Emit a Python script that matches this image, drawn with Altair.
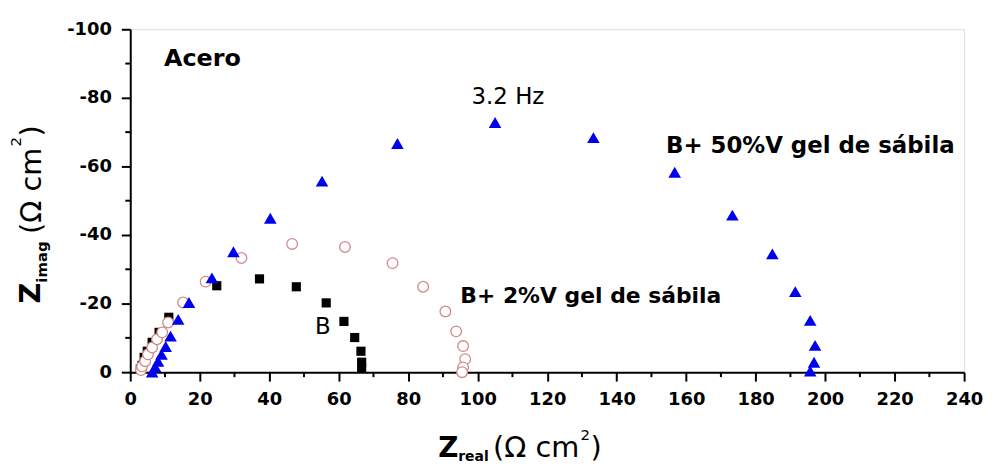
import altair as alt
import pandas as pd

# ---- data ----
b_real = [2.9, 3.4, 4.0, 4.9, 6.3, 8.3, 11.1, 24.9, 37.2, 47.8, 56.4, 61.5, 64.6, 66.4, 66.6, 66.6]
b_imag = [-0.9, -2.0, -4.3, -6.1, -8.7, -11.6, -16.0, -25.2, -27.2, -24.9, -20.2, -14.8, -10.1, -6.1, -2.9, -1.2]

g2_real = [3.1, 3.4, 4.3, 5.1, 6.3, 7.7, 9.2, 10.9, 15.2, 21.7, 32.0, 46.6, 61.8, 75.5, 84.3, 90.7, 93.8, 95.8, 96.4, 95.8, 95.5]
g2_imag = [-0.6, -1.7, -3.2, -5.2, -7.2, -9.6, -11.6, -14.5, -20.3, -26.4, -33.3, -37.4, -36.5, -31.8, -24.9, -17.7, -11.9, -7.6, -3.8, -1.4, 0.0]

g50_real = [6.3, 7.2, 8.0, 9.0, 10.2, 11.6, 13.8, 16.9, 23.5, 29.7, 40.3, 55.2, 76.9, 105.0, 133.3, 156.7, 173.3, 184.8, 191.4, 195.7, 197.1, 196.8, 195.7]
g50_imag = [0.0, -1.5, -3.2, -5.2, -7.5, -10.5, -15.4, -20.3, -27.5, -35.1, -44.9, -55.7, -66.7, -72.8, -68.4, -58.3, -45.8, -34.5, -23.5, -15.1, -7.8, -2.9, -0.3]

x_major = [0, 20, 40, 60, 80, 100, 120, 140, 160, 180, 200, 220, 240]
x_minor = [10, 30, 50, 70, 90, 110, 130, 150, 170, 190, 210, 230]
y_major = [0, -20, -40, -60, -80, -100]
y_minor = [-10, -30, -50, -70, -90]

ann_text = ["Acero", "3.2 Hz", "B+ 50%V gel de sábila", "B+ 2%V gel de sábila", "B"]
ann_x = [9.7, 108.7, 154.2, 95.0, 53.2]
ann_y = [-89.3, -78.3, -63.8, -20.3, -11.0]
ann_weight = ["bold", "normal", "bold", "bold", "normal"]
ann_size = [24, 23, 23, 22, 23]
ann_align = ["left", "center", "left", "left", "left"]

W, H = 839, 345
FONT = "DejaVu Sans"

xs = alt.Scale(domain=[0, 240], nice=False, zero=False)
ys = alt.Scale(domain=[0, -100], nice=False, zero=False)

df_b = pd.DataFrame({"x": b_real, "y": b_imag})
df_2 = pd.DataFrame({"x": g2_real, "y": g2_imag})
df_50 = pd.DataFrame({"x": g50_real, "y": g50_imag})

common = dict(title=None, grid=False, domainColor="black", domainWidth=2,
              tickColor="black", tickWidth=2, tickSize=9, labelFont=FONT, labelFontWeight="bold",
              labelFontSize=18, labelColor="black", labelPadding=10, labelFlush=False,
              labelOverlap=False, labelBound=False)
xaxis = alt.Axis(values=x_major, **common)
yaxis = alt.Axis(values=y_major, labelExpr="datum.value == 0 ? '0' : '-' + abs(datum.value)", **common)

sq = alt.Chart(df_b).mark_point(shape="square", filled=True, color="black", size=85, opacity=1).encode(
    x=alt.X("x:Q", scale=xs, axis=xaxis), y=alt.Y("y:Q", scale=ys, axis=yaxis))
ci = alt.Chart(df_2).mark_point(shape="circle", filled=False, fill="white", fillOpacity=1,
                                stroke="#d08a8a", strokeWidth=1.3, size=115, opacity=1).encode(
    x=alt.X("x:Q", scale=xs), y=alt.Y("y:Q", scale=ys))
tr = alt.Chart(df_50).mark_point(shape="triangle-up", filled=True, color="#0000ee", size=160, opacity=1).encode(
    x=alt.X("x:Q", scale=xs), y=alt.Y("y:Q", scale=ys))

# minor ticks
df_xm = pd.DataFrame({"v": x_minor})
df_ym = pd.DataFrame({"v": y_minor})
xminor = alt.Chart(df_xm).mark_rule(color="black", strokeWidth=2).encode(
    x=alt.X("v:Q", scale=xs), y=alt.value(H), y2=alt.value(H + 5))
yminor = alt.Chart(df_ym).mark_rule(color="black", strokeWidth=2).encode(
    y=alt.Y("v:Q", scale=ys), x=alt.value(-5), x2=alt.value(0))

df_ann = pd.DataFrame({"t": ann_text, "x": ann_x, "y": ann_y})
ann_layers = []
for i in range(len(ann_text)):
    d = df_ann.iloc[[i]]
    ann_layers.append(alt.Chart(d).mark_text(align=ann_align[i], baseline="alphabetic", font=FONT,
                                             fontWeight=ann_weight[i], fontSize=ann_size[i],
                                             color="black").encode(
        x=alt.X("x:Q", scale=xs), y=alt.Y("y:Q", scale=ys), text="t:N"))

# axis titles built from pieces (subscript / superscript)
one = pd.DataFrame({"a": [0]})
def piece(txt, px, py, size, weight="normal", angle=0):
    return alt.Chart(one).mark_text(text=txt, align="left", baseline="alphabetic", font=FONT,
                                    fontSize=size, fontWeight=weight, angle=angle, color="black").encode(
        x=alt.value(px), y=alt.value(py))

xt = [
    piece("Z", 310, 430, 28, "bold"),
    piece("real", 330, 434, 14, "bold"),
    piece("(Ω cm", 365, 430, 29),
    piece("2", 453, 413, 15),
    piece(")", 463, 430, 29),
]
yt = [
    piece("Z", -91, 276, 29, "bold", 270),
    piece("imag", -84, 255, 15, "bold", 270),
    piece("(Ω cm", -90, 206, 29, "normal", 270),
    piece("2", -110, 118, 15, "normal", 270),
    piece(")", -90, 108, 29, "normal", 270),
]

chart = alt.layer(sq, ci, tr, xminor, yminor, *ann_layers, *xt, *yt).properties(
    width=W, height=H,
    autosize=alt.AutoSizeParams(type="none"),
    padding={"left": 123, "top": 20, "right": 20, "bottom": 90},
).configure_view(stroke="#a0a0a0", strokeWidth=1.5).configure(background="white")

chart.save("out.html", embed_options={"renderer": "svg", "actions": False})
